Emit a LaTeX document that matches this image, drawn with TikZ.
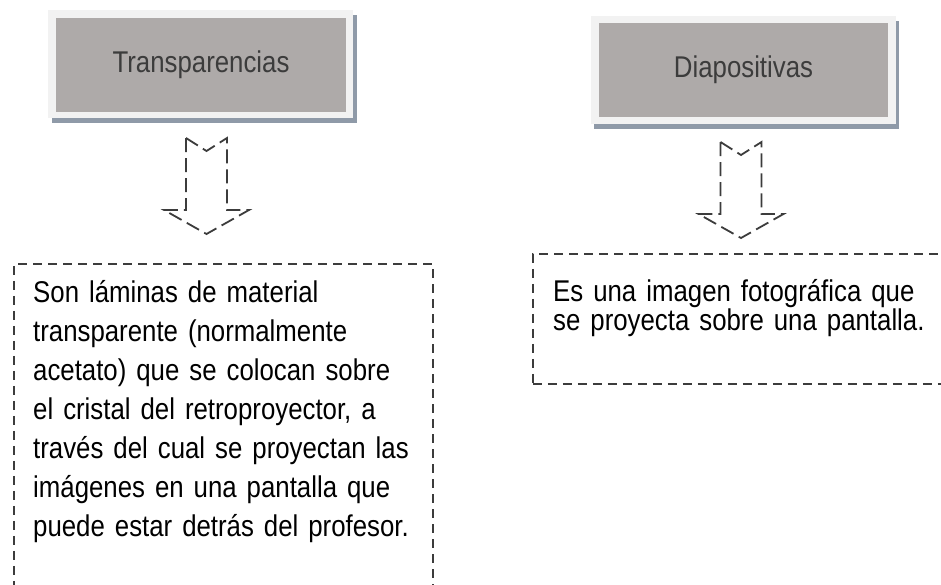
\documentclass[tikz,border=0pt]{standalone}
\usepackage{fontspec}
\setmainfont{Liberation Sans}[FakeStretch=0.86]
\definecolor{boxgray}{RGB}{174,170,169}
\definecolor{framegray}{RGB}{242,242,242}
\definecolor{shadowblue}{RGB}{143,154,168}
\definecolor{ink}{RGB}{60,60,60}
\definecolor{titleink}{RGB}{60,60,60}
\tikzset{
  titlebox/.style={fill=boxgray, text=titleink, inner sep=0pt, font=\fontsize{30}{34}\selectfont},
  dashline/.style={draw=ink, line width=1.8pt, dash pattern=on 9pt off 6pt},
  arrowline/.style={draw=ink, line width=1.8pt, dash pattern=on 14pt off 6pt},
  dashbox/.style={dashline, anchor=north west, inner sep=0pt},
  bodytext/.style={anchor=north west, inner sep=0pt, align=left, text width=440pt, text=black},
  hollowarrow/.pic={\draw[arrowline] (-20.5,0) -- (0,13) -- (20.5,0) -- (20.5,72) -- (42.5,72) -- (0,96) -- (-42.5,72) -- (-20.5,72) -- cycle;}
}
\begin{document}
\begin{tikzpicture}[x=1pt,y=-1pt]
\useasboundingbox (0,0) rectangle (941,585);
\clip (0,0) rectangle (941,585);
\fill[white] (0,0) rectangle (941,585);
% left title box
\fill[shadowblue] (52,15) rectangle (357,123);
\fill[framegray] (48,10) rectangle (353,118);
\node[titlebox, minimum width=290pt, minimum height=94pt] (t1) at (201,65) {Transparencias};
% right title box
\fill[shadowblue] (594,21) rectangle (899,129);
\fill[framegray] (591,16) rectangle (896,124);
\node[titlebox, minimum width=289pt, minimum height=94pt] (t2) at (743.5,70) {Diapositivas};
% arrows
\pic at (206.5,138) {hollowarrow};
\pic at (741,142) {hollowarrow};
% text boxes
\node[dashbox, minimum width=419pt, minimum height=360pt] (b1) at (13,263) {};
\node[dashbox, minimum width=430pt, minimum height=130pt] (b2) at (532,253) {};
\node[bodytext, font=\fontsize{30}{39}\selectfont] (d1) at (33,270) {\rule{0pt}{32pt}Son láminas de material\\transparente (normalmente\\acetato) que se colocan sobre\\el cristal del retroproyector, a\\través del cual se proyectan las\\imágenes en una pantalla que\\puede estar detrás del profesor.};
\node[bodytext, font=\fontsize{30}{29}\selectfont] (d2) at (553,269) {\rule{0pt}{32pt}Es una imagen fotográfica que\\se proyecta sobre una pantalla.};
\end{tikzpicture}
\end{document}
